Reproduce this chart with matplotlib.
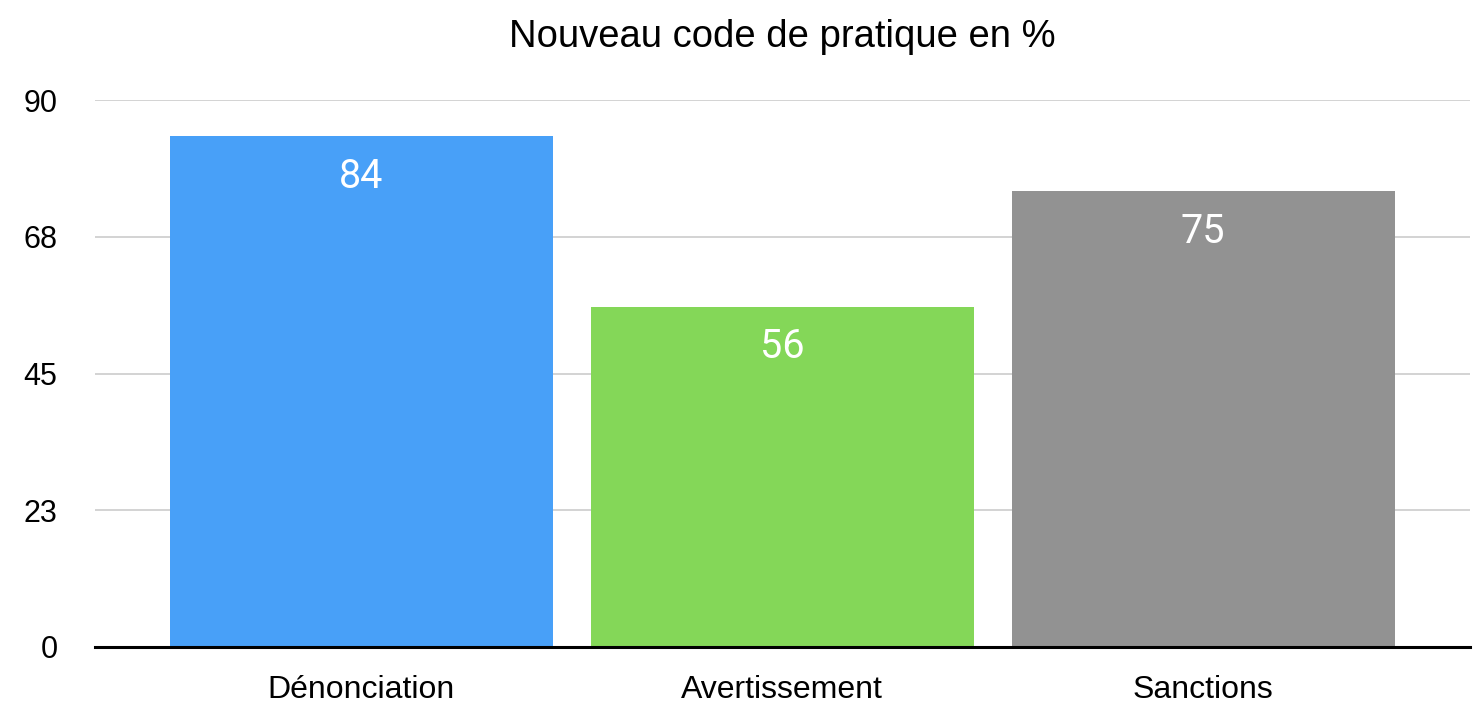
import matplotlib.pyplot as plt

categories = ["Dénonciation", "Avertissement", "Sanctions"]
values = [84, 56, 75]
colors = ["#48A0F8", "#84D758", "#929292"]
yticks = [0, 22.5, 45, 67.5, 90]
ytick_labels = ["0", "23", "45", "68", "90"]

plt.rcParams['font.family'] = ['Liberation Sans', 'DejaVu Sans']

fig = plt.figure(figsize=(14.81, 7.06), dpi=100)
ax = fig.add_axes([95 / 1481, 1 - 647 / 706, (1470 - 95) / 1481, 547 / 706])

x = range(len(categories))
bars = ax.bar(x, values, width=0.91, color=colors, zorder=2)

for b, v in zip(bars, values):
    ax.text(b.get_x() + b.get_width() / 2, v - 3.4, str(v), ha="center", va="top",
            color="white", fontsize=28.5, family=["Roboto", "DejaVu Sans"], zorder=3)

ax.set_xlim(-0.632, 2.634)
ax.set_ylim(0, 90)
ax.set_yticks(yticks)
ax.set_yticklabels(ytick_labels, fontsize=22)
ax.set_xticks(list(x))
ax.set_xticklabels(categories, fontsize=23)
ax.tick_params(axis="x", length=0, pad=20)
ax.tick_params(axis="y", length=0, pad=27)

ax.grid(axis="y", color="#cccccc", linewidth=1.2, zorder=0)
for s in ["top", "right", "left"]:
    ax.spines[s].set_visible(False)
ax.spines["bottom"].set_linewidth(2.2)
ax.spines["bottom"].set_zorder(4)

ax.set_title("Nouveau code de pratique en %", fontsize=27.5, pad=38)

fig.savefig("out.png", dpi=100)
